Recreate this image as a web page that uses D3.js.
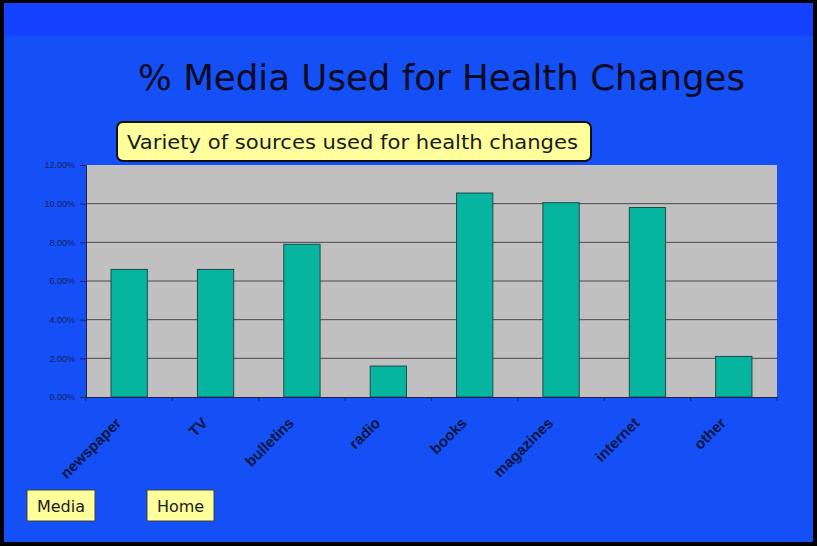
<!DOCTYPE html>
<html>
<head>
<meta charset="utf-8">
<script src="https://cdn.jsdelivr.net/npm/d3@7"></script>
<style>
  body { margin: 0; background: #fff; }
  svg { display: block; }
</style>
</head>
<body>
<div id="chart"></div>
<script>
const categories = ["newspaper", "TV", "bulletins", "radio", "books", "magazines", "internet", "other"];
const values = [6.6, 6.6, 7.9, 1.6, 10.55, 10.05, 9.8, 2.1];
const yTicks = [0, 2, 4, 6, 8, 10, 12];

const W = 817, H = 546;
const plot = {left: 86, right: 777, top: 165, bottom: 397};

const svg = d3.select("#chart").append("svg")
    .attr("width", W)
    .attr("height", H);

// slide background
svg.append("rect").attr("x", 0).attr("y", 0).attr("width", W).attr("height", H).attr("fill", "#000");
svg.append("rect").attr("x", 4).attr("y", 3).attr("width", W - 8).attr("height", H - 7).attr("fill", "#1450f6");
svg.append("rect").attr("x", 4).attr("y", 3).attr("width", W - 8).attr("height", 33).attr("fill", "#1440ff");

// title
svg.append("text")
    .attr("x", 138).attr("y", 90)
    .attr("textLength", 607).attr("lengthAdjust", "spacingAndGlyphs")
    .style("font-family", "'DejaVu Sans', Verdana, sans-serif")
    .style("font-size", "35px")
    .attr("fill", "#0a0a20")
    .text("% Media Used for Health Changes");

const x = d3.scaleBand()
    .domain(categories)
    .range([plot.left, plot.right])
    .paddingInner(0.58).paddingOuter(0.29);

const xb = d3.scaleBand().domain(categories).range([plot.left, plot.right]);

const y = d3.scaleLinear()
    .domain([0, 12])
    .range([plot.bottom, plot.top]);

// plot area
svg.append("rect")
    .attr("x", plot.left).attr("y", plot.top)
    .attr("width", plot.right - plot.left).attr("height", plot.bottom - plot.top)
    .attr("fill", "#c0c0c0");

// gridlines
svg.append("g")
    .selectAll("line")
    .data(yTicks.filter(d => d > 0 && d < 12))
    .join("line")
    .attr("x1", plot.left).attr("x2", plot.right)
    .attr("y1", d => y(d)).attr("y2", d => y(d))
    .attr("stroke", "#4a4a4a").attr("stroke-width", 1);

// bars
svg.append("g")
    .selectAll("rect")
    .data(categories)
    .join("rect")
    .attr("x", d => x(d))
    .attr("y", (d, i) => y(values[i]))
    .attr("width", x.bandwidth())
    .attr("height", (d, i) => y(0) - y(values[i]))
    .attr("fill", "#06b5a0")
    .attr("stroke", "#1d4a4a")
    .attr("stroke-width", 1);

// y axis
const yAxis = svg.append("g")
    .attr("transform", `translate(${plot.left},0)`)
    .call(d3.axisLeft(y).tickValues(yTicks).tickSize(6).tickFormat(d => d.toFixed(2) + "%"));
yAxis.select(".domain").attr("stroke", "#202040");
yAxis.selectAll(".tick line").attr("stroke", "#202040");
yAxis.selectAll(".tick text")
    .attr("x", -11)
    .style("font-family", "Arial, 'Liberation Sans', sans-serif")
    .style("font-size", "9px")
    .attr("fill", "#15205a");

// x axis
const xAxis = svg.append("g")
    .attr("transform", `translate(0,${plot.bottom})`)
    .call(d3.axisBottom(xb).tickSize(0).tickFormat(""));
xAxis.select(".domain").attr("stroke", "#202040");

svg.append("g")
    .selectAll("line")
    .data(categories.concat(["end"]))
    .join("line")
    .attr("x1", (d, i) => i < categories.length ? xb(d) : plot.right)
    .attr("x2", (d, i) => i < categories.length ? xb(d) : plot.right)
    .attr("y1", plot.bottom).attr("y2", plot.bottom + 4)
    .attr("stroke", "#202040");

svg.append("g")
    .selectAll("text")
    .data(categories)
    .join("text")
    .attr("transform", d => `translate(${xb(d) + xb.bandwidth() / 2 - 7},${plot.bottom + 27}) rotate(-45)`)
    .attr("text-anchor", "end")
    .style("font-family", "Arial, 'Liberation Sans', sans-serif")
    .style("font-size", "15px")
    .style("font-weight", "bold")
    .attr("fill", "#0a1540")
    .text(d => d);

// subtitle box
svg.append("rect")
    .attr("x", 117).attr("y", 122).attr("width", 474).attr("height", 39)
    .attr("rx", 6)
    .attr("fill", "#ffff9c").attr("stroke", "#111").attr("stroke-width", 2);
svg.append("text")
    .attr("x", 127).attr("y", 149)
    .attr("textLength", 451).attr("lengthAdjust", "spacingAndGlyphs")
    .style("font-family", "'DejaVu Sans', Verdana, sans-serif")
    .style("font-size", "20px")
    .attr("fill", "#1a1a1a")
    .text("Variety of sources used for health changes");

// buttons
const buttons = [{label: "Media", x: 27, w: 68}, {label: "Home", x: 147, w: 67}];
const btn = svg.append("g").selectAll("g").data(buttons).join("g");
btn.append("rect")
    .attr("x", d => d.x).attr("y", 490).attr("width", d => d.w).attr("height", 31)
    .attr("fill", "#ffff9c").attr("stroke", "#404040").attr("stroke-width", 1);
btn.append("text")
    .attr("x", d => d.x + d.w / 2).attr("y", 512)
    .attr("text-anchor", "middle")
    .style("font-family", "'DejaVu Sans', Verdana, sans-serif")
    .style("font-size", "16px")
    .attr("fill", "#1a1a1a")
    .text(d => d.label);
</script>
</body>
</html>
